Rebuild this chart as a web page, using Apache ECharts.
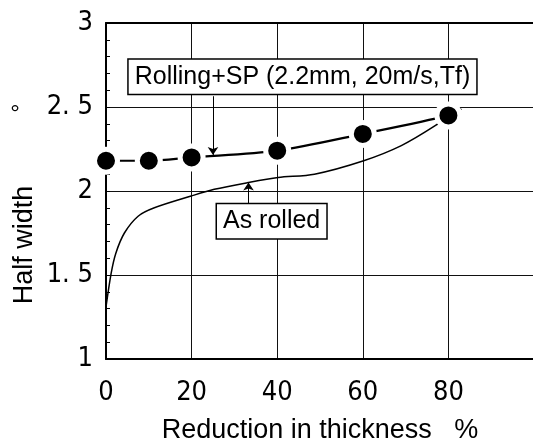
<!DOCTYPE html>
<html lang="en">
<head>
<meta charset="UTF-8">
<title>Half width vs reduction in thickness</title>
<script src="https://cdn.jsdelivr.net/npm/echarts@6/dist/echarts.min.js"></script>
<style>
  html, body { margin: 0; padding: 0; background: #fff; }
  #chart { width: 533px; height: 445px; }
</style>
</head>
<body>
<div id="chart"></div>
<script>
  // Rolling + SP measurements (reduction %, half width deg)
  var spReduction = [0, 10, 20, 40, 60, 80];
  var spHalfWidth = [2.18, 2.18, 2.20, 2.24, 2.34, 2.45];
  // dashed curve drawn through the SP points (runs a little past 80)
  var spFitX = [0, 10, 20, 40, 60, 80, 83];
  var spFitY = [2.18, 2.18, 2.20, 2.24, 2.34, 2.45, 2.49];
  // As rolled curve
  var rolledX = [0, 1.2, 2.3, 4.3, 7.5, 11.3, 19.9, 25.3, 33.2, 40.2, 48.7, 60.2, 69, 77, 80];
  var rolledY = [1.31, 1.51, 1.63, 1.75, 1.85, 1.90, 1.97, 2.01, 2.05, 2.08, 2.10, 2.18, 2.27, 2.39, 2.45];
  // tick labels
  var xTickLabels = { 0: '0', 20: '20', 40: '40', 60: '60', 80: '80' };
  var yTickLabels = { 1: '1', 1.5: '1. 5', 2: '2', 2.5: '2. 5', 3: '3' };

  var narrow = '"Liberation Sans Narrow", "DejaVu Sans Condensed", sans-serif';
  var sans = '"Liberation Sans", Arial, sans-serif';

  function zip(xs, ys) {
    return xs.map(function (x, i) { return [x, ys[i]]; });
  }

  var chart = echarts.init(document.getElementById('chart'));

  var boxLabel = {
    show: true,
    position: 'inside',
    color: '#000',
    fontSize: 25,
    fontFamily: sans,
    backgroundColor: '#fff',
    borderColor: '#000',
    borderWidth: 1.5,
    padding: [5, 6, 4, 6]
  };

  var option = {
    animation: false,
    grid: { left: 106, right: -1, top: 23, bottom: 86, outerBoundsMode: 'none', containLabel: false },
    xAxis: [{
      type: 'value',
      min: 0, max: 100, interval: 20,
      name: 'Reduction in thickness   %',
      nameLocation: 'middle',
      nameGap: 58,
      nameTextStyle: { color: '#000', fontSize: 27, fontFamily: sans },
      axisLine: { lineStyle: { color: '#000', width: 2 } },
      axisTick: { show: false },
      axisLabel: {
        color: '#000', fontSize: 27, fontFamily: narrow, margin: 20,
        formatter: function (v) { return xTickLabels[v] || ''; }
      },
      splitLine: { lineStyle: { color: '#111', width: 1 } }
    }, {
      type: 'value',
      position: 'top',
      min: 0, max: 100,
      axisLine: { show: true, lineStyle: { color: '#000', width: 2 } },
      axisTick: { show: false },
      axisLabel: { show: false },
      splitLine: { show: false }
    }],
    yAxis: {
      type: 'value',
      min: 1, max: 3, interval: 0.5,
      axisLine: { show: true, lineStyle: { color: '#000', width: 2 } },
      axisTick: { show: true, inside: true, length: 4, lineStyle: { color: '#000' } },
      minorTick: { show: true, splitNumber: 5, length: 4, lineStyle: { color: '#000' } },
      axisLabel: {
        color: '#000', fontSize: 27, fontFamily: narrow, margin: 13,
        formatter: function (v) { return yTickLabels[v] || ''; }
      },
      splitLine: { lineStyle: { color: '#111', width: 1 } }
    },
    graphic: [{
      type: 'text',
      x: 25, y: 245,
      rotation: Math.PI / 2,
      style: {
        text: 'Half width', fontSize: 27, fontFamily: sans, fill: '#000',
        textAlign: 'center', textVerticalAlign: 'middle'
      }
    }, {
      type: 'text',
      x: 15, y: 114,
      style: {
        text: '°', fontSize: 24, fontFamily: sans, fill: '#000',
        textAlign: 'center', textVerticalAlign: 'middle'
      }
    }],
    series: [{
      name: 'As rolled',
      type: 'line',
      data: zip(rolledX, rolledY),
      smooth: 0.3,
      showSymbol: false,
      lineStyle: { color: '#000', width: 1.5 },
      markLine: {
        silent: true,
        symbol: ['none', 'arrow'],
        symbolSize: 8,
        label: { show: false },
        lineStyle: { color: '#000', width: 1, type: 'solid' },
        data: [[{ coord: [33.3, 1.925] }, { coord: [33.3, 2.05] }]]
      },
      markPoint: {
        silent: true,
        symbol: 'rect',
        symbolSize: 1,
        itemStyle: { color: 'rgba(0,0,0,0)' },
        label: boxLabel,
        data: [{ coord: [38.7, 1.82], value: 'As rolled' }]
      },
      z: 2
    }, {
      name: 'Rolling+SP fit',
      type: 'line',
      data: zip(spFitX, spFitY),
      smooth: 0.3,
      showSymbol: false,
      lineStyle: { color: '#000', width: 2.2 },
      markLine: {
        silent: true,
        symbol: ['none', 'arrow'],
        symbolSize: 8,
        label: { show: false },
        lineStyle: { color: '#000', width: 1, type: 'solid' },
        data: [[{ coord: [25, 2.564] }, { coord: [25, 2.215] }]]
      },
      markPoint: {
        silent: true,
        symbol: 'rect',
        symbolSize: 1,
        itemStyle: { color: 'rgba(0,0,0,0)' },
        label: boxLabel,
        data: [{ coord: [45.9, 2.68], value: 'Rolling+SP (2.2mm, 20m/s,Tf)' }]
      },
      z: 3
    }, {
      name: 'Rolling+SP',
      type: 'scatter',
      data: zip(spReduction, spHalfWidth),
      symbol: 'circle',
      symbolSize: 23,
      itemStyle: { color: '#000', borderColor: '#fff', borderWidth: 5, opacity: 1 },
      z: 4
    }]
  };

  chart.setOption(option);
</script>
</body>
</html>
